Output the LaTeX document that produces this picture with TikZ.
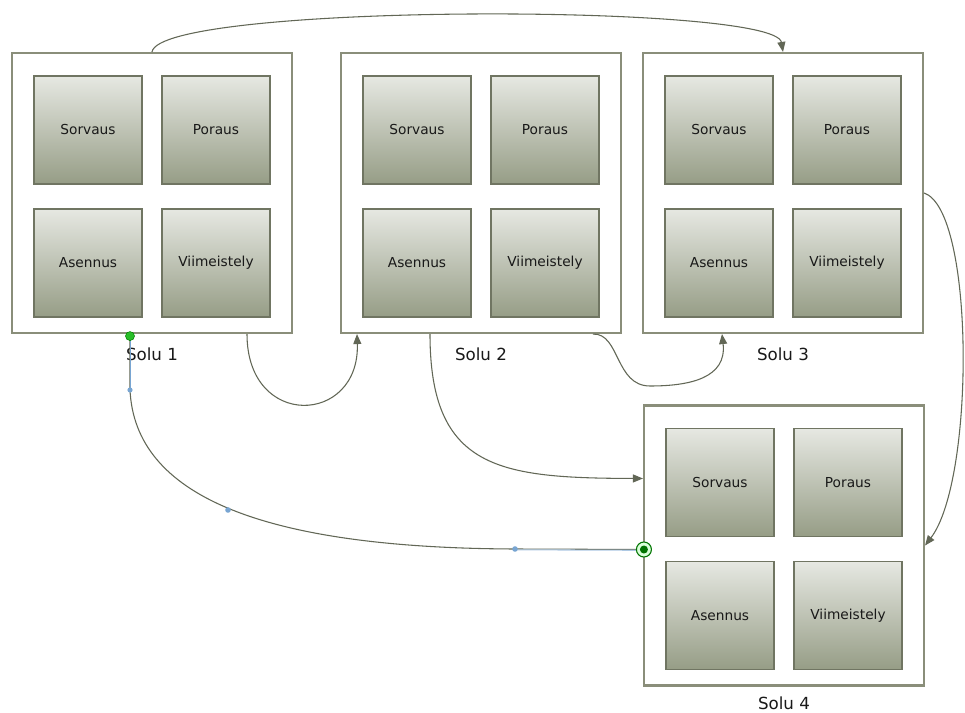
\documentclass[tikz,border=0pt]{standalone}
\usepackage{fontspec}
\setmainfont{DejaVu Sans}
\usetikzlibrary{arrows.meta}
\definecolor{boxline}{RGB}{138,142,122}
\definecolor{procline}{RGB}{112,117,98}
\definecolor{proctop}{RGB}{230,232,226}
\definecolor{procbot}{RGB}{150,157,134}
\definecolor{linecol}{RGB}{98,103,86}
\definecolor{selblue}{RGB}{120,165,210}
\definecolor{handlegreen}{RGB}{40,190,40}
\newcommand\drawcell[5]{%
  \node[outerbox] (#1) at (#2,#3) {};
  \node[proc] (#1-sorvaus) at ([shift={(-64,-63)}]#1.center) {Sorvaus};
  \node[proc] (#1-poraus) at ([shift={(64,-63)}]#1.center) {Poraus};
  \node[proc] (#1-asennus) at ([shift={(-64,70)}]#1.center) {Asennus};
  \node[proc] (#1-viim) at ([shift={(64,70)}]#1.center) {Viimeistely};
  \node[lbl] (#1-label) at ([shift={(0,#5)}]#1.south) {#4};
}
\begin{document}
\begin{tikzpicture}[x=0.75pt,y=-0.75pt,
  outerbox/.style={draw=boxline, line width=1.6pt, fill=white, minimum width=210pt, minimum height=210pt, inner sep=0pt},
  proc/.style={draw=procline, line width=0.9pt, top color=proctop, bottom color=procbot, minimum width=81pt, minimum height=81pt, inner sep=0pt, font=\fontsize{10.3}{12}\selectfont, text=black!90},
  lbl/.style={font=\fontsize{12.5}{14}\selectfont, text=black!90, inner sep=0pt},
  conn/.style={draw=linecol, line width=0.8pt},
  arr/.style={-{Triangle[length=7.5pt,width=6pt]}}
]
\useasboundingbox (0,0) rectangle (965,713);
\fill[white] (0,0) rectangle (965,713);

\drawcell{s1}{152}{193}{Solu 1}{20}
\drawcell{s2}{481}{193}{Solu 2}{20}
\drawcell{s3}{783}{193}{Solu 3}{20}
\drawcell{s4}{784}{545.5}{Solu 4}{17}

% Solu 1 -> Solu 3 (top)
\draw[conn,arr] (s1.north) .. controls (160,3) and (775,3) .. (s3.north);
% Solu 1 -> Solu 2
\draw[conn,arr] ([shift={(95,0)}]s1.south) .. controls (247,430) and (360,425) .. ([shift={(-124,0)}]s2.south);
% Solu 2 -> Solu 4
\draw[conn,arr] ([shift={(-51,0)}]s2.south) .. controls (430,470) and (500,478) .. ([shift={(0,-67)}]s4.west);
% Solu 2 -> Solu 3
\draw[conn,arr] ([shift={(112,0)}]s2.south) .. controls (620,333) and (615,386) .. (650,386) .. controls (690,386) and (727,378) .. ([shift={(-61,0)}]s3.south);
% Solu 3 -> Solu 4
\draw[conn,arr] (s3.east) .. controls (975,210) and (975,480) .. (s4.east);
% Solu 1 -> Solu 4 (selected connector)
\coordinate (h0) at ([shift={(-22,2)}]s1.south);
\coordinate (h1) at (130,390);
\coordinate (h2) at (228,510);
\coordinate (h3) at (515,549);
\coordinate (h4) at ([shift={(1,4)}]s4.west);
\draw[conn] (h0) -- (h1) .. controls (135,495) and (260,548) .. (h3) -- (h4);
\draw[selblue, line width=0.6pt] (h0) -- (h1);
\draw[selblue!60, line width=0.8pt] ([yshift=-0.6pt]h3) -- ([yshift=-0.6pt]h4);
\fill[selblue] (h1) circle (2.6);
\fill[selblue] (h2) circle (2.8);
\fill[selblue] (h3) circle (2.8);
\fill[handlegreen, draw=green!50!black, line width=0.4pt] (h0) circle (4.5);
\draw[green!45!black, fill=green!15, line width=0.8pt] (h4) circle (7.5);
\fill[green!45!black] (h4) circle (4);
\end{tikzpicture}
\end{document}
